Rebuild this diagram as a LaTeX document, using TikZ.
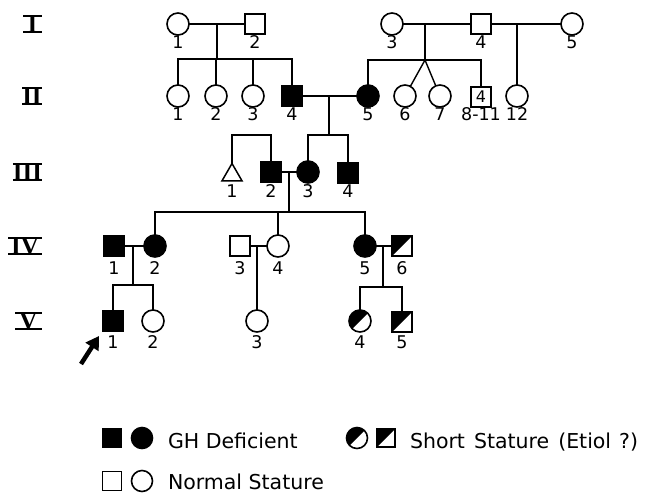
\documentclass[tikz,border=0pt]{standalone}
\usepackage{fontspec}
\setmainfont{DejaVu Sans}
\newfontfamily\romfont{Liberation Serif}
\usetikzlibrary{shapes.geometric,arrows.meta}
\begin{document}
\begin{tikzpicture}[x=1pt,y=-1pt,
  every node/.style={inner sep=0pt, outer sep=0pt},
  ln/.style={line width=1.4pt},
  fem/.style={circle, draw, line width=1.6pt, minimum size=22pt},
  mal/.style={rectangle, draw, line width=1.6pt, minimum size=20pt},
  aff/.style={fill=black},
  half/.style={path picture={\fill[black] (path picture bounding box.north west) -- (path picture bounding box.north east) -- (path picture bounding box.south west) -- cycle;}},
  unk/.style={regular polygon, regular polygon sides=3, draw, line width=1.5pt, minimum size=23pt},
  lab/.style={font=\fontsize{17.5}{17.5}\selectfont},
  gen/.style={font=\romfont\bfseries\fontsize{25}{25}\selectfont, anchor=east},
  genbar/.style={line width=2.2pt},
  leg/.style={font=\fontsize{20.5}{20.5}\selectfont, anchor=base west},
]
\useasboundingbox (0,0) rectangle (660,496);

% generation numerals
\node[gen, minimum width=19pt] (gI) at (42,24) {I};
\node[gen, minimum width=20pt] (gII) at (42,96) {II};
\node[gen, minimum width=29pt] (gIII) at (42,172) {III};
\node[gen, minimum width=34pt] (gIV) at (42,246) {IV};
\node[gen, minimum width=27pt] (gV) at (42,321) {V};
\foreach \g in {gI,gII,gIII,gIV,gV}{
  \draw[genbar] (\g.north west) -- (\g.north east) (\g.south west) -- (\g.south east);
}

% generation I
\node[fem] (I1) at (178,24) {};
\node[mal] (I2) at (255,24) {};
\node[fem] (I3) at (392,24) {};
\node[mal] (I4) at (481,24) {};
\node[fem] (I5) at (572,24) {};
\node[lab] (lI1) at (178,42) {1};
\node[lab] (lI2) at (255,42) {2};
\node[lab] (lI3) at (392,42) {3};
\node[lab] (lI4) at (481,42) {4};
\node[lab] (lI5) at (572,42) {5};

% generation II
\node[fem] (II1) at (178,96) {};
\node[fem] (II2) at (216,96) {};
\node[fem] (II3) at (253,96) {};
\node[mal,aff] (II4) at (292,96) {};
\node[fem,aff] (II5) at (368,96) {};
\node[fem] (II6) at (405,96) {};
\node[fem] (II7) at (440,96) {};
\node[mal,font=\fontsize{16}{16}\selectfont] (II8) at (481,97) {4};
\node[fem] (II12) at (517,96) {};
\node[lab] (lII1) at (178,114) {1};
\node[lab] (lII2) at (216,114) {2};
\node[lab] (lII3) at (253,114) {3};
\node[lab] (lII4) at (292,114) {4};
\node[lab] (lII5) at (368,114) {5};
\node[lab] (lII6) at (405,114) {6};
\node[lab] (lII7) at (440,114) {7};
\node[lab] (lII8) at (481,114) {8-11};
\node[lab] (lII12) at (517,114) {12};

% generation III
\node[unk] (III1) at (232,175) {};
\node[mal,aff] (III2) at (271,172) {};
\node[fem,aff] (III3) at (308,172) {};
\node[mal,aff] (III4) at (348,173) {};
\node[lab] (lIII1) at (232,191) {1};
\node[lab] (lIII2) at (271,191) {2};
\node[lab] (lIII3) at (308,191) {3};
\node[lab] (lIII4) at (348,191) {4};

% generation IV
\node[mal,aff] (IV1) at (114,246) {};
\node[fem,aff] (IV2) at (155,246) {};
\node[mal] (IV3) at (240,246) {};
\node[fem] (IV4) at (278,246) {};
\node[fem,aff] (IV5) at (365,246) {};
\node[mal,half] (IV6) at (402,246) {};
\node[lab] (lIV1) at (114,268) {1};
\node[lab] (lIV2) at (155,268) {2};
\node[lab] (lIV3) at (240,268) {3};
\node[lab] (lIV4) at (278,268) {4};
\node[lab] (lIV5) at (365,268) {5};
\node[lab] (lIV6) at (402,268) {6};

% generation V
\node[mal,aff] (V1) at (113,321) {};
\node[fem] (V2) at (153,321) {};
\node[fem] (V3) at (257,321) {};
\node[fem,half] (V4) at (360,321) {};
\node[mal,half] (V5) at (402,322) {};
\node[lab] (lV1) at (113,342) {1};
\node[lab] (lV2) at (153,342) {2};
\node[lab] (lV3) at (257,342) {3};
\node[lab] (lV4) at (360,342) {4};
\node[lab] (lV5) at (402,342) {5};

% coordinates for descent lines
\coordinate (dA) at (217,24);  \coordinate (sA) at (217,59);
\coordinate (dB) at (425,24);  \coordinate (sB) at (425,60);
\coordinate (dD) at (329,96);  \coordinate (sD) at (329,135);
\coordinate (sE) at (251,135);
\coordinate (dF) at (289,172); \coordinate (sF) at (289,212);
\coordinate (dG) at (133,246); \coordinate (sG) at (133,285);
\coordinate (dH) at (257,246);
\coordinate (dI) at (383,246); \coordinate (sI) at (383,287);

% connectors
\draw[ln] (I1) -- (I2);
\draw[ln] (I3) -- (I4);
\draw[ln] (I4) -- (I5);
\draw[ln] (dA) -- (sA);
\draw[ln] (II1) -- (II1 |- sA) -- (II4 |- sA) -- (II4);
\draw[ln] (II2) -- (II2 |- sA);
\draw[ln] (II3) -- (II3 |- sA);
\draw[ln] (dB) -- (sB);
\draw[ln] (II5) -- (II5 |- sB) -- (II8 |- sB) -- (II8);
\draw[ln] (sB) -- (II6);
\draw[ln] (sB) -- (II7);
\draw[ln] (II12) -- (II12 |- I5);

\draw[ln] (II4) -- (II5);
\draw[ln] (dD) -- (sD);
\draw[ln] (III3) -- (III3 |- sD) -- (III4 |- sD) -- (III4);
\draw[ln] (III1) -- (III1 |- sE) -- (III2 |- sE) -- (III2);

\draw[ln] (III2) -- (III3);
\draw[ln] (dF) -- (sF);
\draw[ln] (IV2) -- (IV2 |- sF) -- (IV5 |- sF) -- (IV5);
\draw[ln] (IV4) -- (IV4 |- sF);

\draw[ln] (IV1) -- (IV2);
\draw[ln] (IV3) -- (IV4);
\draw[ln] (IV5) -- (IV6);
\draw[ln] (dG) -- (sG);
\draw[ln] (V1) -- (V1 |- sG) -- (V2 |- sG) -- (V2);
\draw[ln] (dH) -- (V3);
\draw[ln] (dI) -- (sI);
\draw[ln] (V4) -- (V4 |- sI) -- (V5 |- sI) -- (V5);

% proband arrow
\coordinate (arT) at (81,364);
\coordinate (arH) at (99,336);
\draw[line width=4.5pt, -{Triangle[length=13pt,width=15pt]}] (arT) -- (arH);

% legend
\node[mal,aff,minimum size=19pt] (lgA) at (112,438) {};
\node[fem,aff,minimum size=21pt] (lgB) at (142,438) {};
\node[leg] (lgC) at (168,448) {GH Deficient};
\node[fem,half,minimum size=21pt] (lgD) at (357,438) {};
\node[mal,half,minimum size=18pt] (lgE) at (386,438) {};
\node[leg] (lgF) at (410,448) {Short\hspace{9pt}Stature\hspace{9pt}(Etiol\hspace{8pt}?)};
\node[mal,minimum size=19pt] (lgG) at (112,481) {};
\node[fem,minimum size=21pt] (lgH) at (142,481) {};
\node[leg] (lgI) at (168,489) {Normal Stature};
\end{tikzpicture}
\end{document}
